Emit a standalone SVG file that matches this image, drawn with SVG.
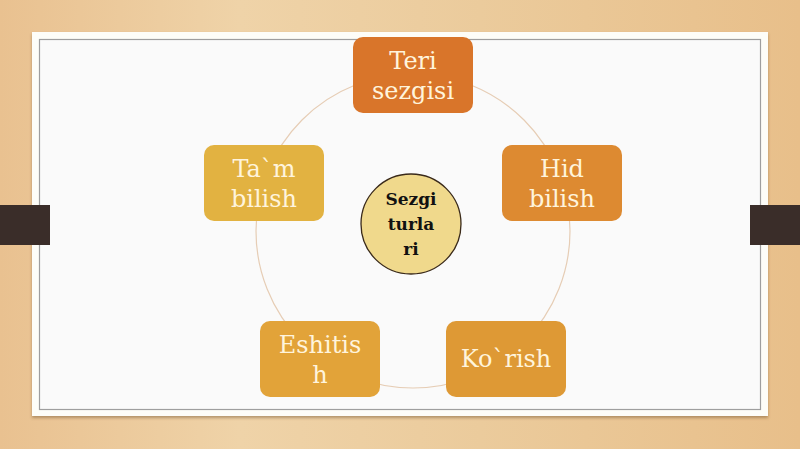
<svg xmlns="http://www.w3.org/2000/svg" width="800" height="449" viewBox="0 0 800 449">
<defs>
<linearGradient id="wood" x1="0" y1="0" x2="1" y2="0">
<stop offset="0" stop-color="#E9C190"/>
<stop offset="0.3" stop-color="#EFD3A8"/>
<stop offset="0.6" stop-color="#EBCB9C"/>
<stop offset="1" stop-color="#E8BF8A"/>
</linearGradient>
<filter id="sh" x="-10%" y="-10%" width="120%" height="130%">
<feDropShadow dx="0" dy="2" stdDeviation="1.5" flood-color="#6b4a20" flood-opacity="0.45"/>
</filter>
</defs>
<style>
.node{stroke:none}
.lbl{font-family:"DejaVu Serif","Liberation Serif",serif;font-size:24px;fill:#FFF4DC;text-anchor:middle}
.ctr{font-family:"DejaVu Serif","Liberation Serif",serif;font-size:17px;font-weight:bold;fill:#111;text-anchor:middle}
</style>
<rect width="800" height="449" fill="url(#wood)"/>
<rect x="32" y="32" width="736" height="384" fill="#FDFDF8" filter="url(#sh)"/>
<rect x="39.5" y="39.5" width="721" height="370" fill="#FAFAFA" stroke="#9E9E9E" stroke-width="1.2"/>
<rect x="0" y="205" width="50" height="40" fill="#3A2D29"/>
<rect x="750" y="205" width="50" height="40" fill="#3A2D29"/>
<g id="connectors">
<circle cx="413" cy="231" r="157" fill="none" stroke="#E6CDB5" stroke-width="1.2"/>
</g>
<g id="n-teri">
<rect class="node" x="353" y="37" width="120" height="76" rx="10" fill="#D9752A"/>
<text class="lbl" x="413" y="69">Teri</text>
<text class="lbl" x="413" y="99">sezgisi</text>
</g>
<g id="n-hid">
<rect class="node" x="502" y="145" width="120" height="76" rx="10" fill="#DD8A31"/>
<text class="lbl" x="562" y="177">Hid</text>
<text class="lbl" x="562" y="207">bilish</text>
</g>
<g id="n-korish">
<rect class="node" x="446" y="321" width="120" height="76" rx="10" fill="#DE9935"/>
<text class="lbl" x="506" y="367">Ko`rish</text>
</g>
<g id="n-eshitish">
<rect class="node" x="260" y="321" width="120" height="76" rx="10" fill="#E2A339"/>
<text class="lbl" x="320" y="353">Eshitis</text>
<text class="lbl" x="320" y="383">h</text>
</g>
<g id="n-tam">
<rect class="node" x="204" y="145" width="120" height="76" rx="10" fill="#E2B241"/>
<text class="lbl" x="264" y="177">Ta`m</text>
<text class="lbl" x="264" y="207">bilish</text>
</g>
<g id="n-center">
<circle cx="411" cy="224" r="50" fill="#F0D98C" stroke="#3A2A1A" stroke-width="1.3"/>
<text class="ctr" x="411" y="205">Sezgi</text>
<text class="ctr" x="411" y="230">turla</text>
<text class="ctr" x="411" y="255">ri</text>
</g>
</svg>
